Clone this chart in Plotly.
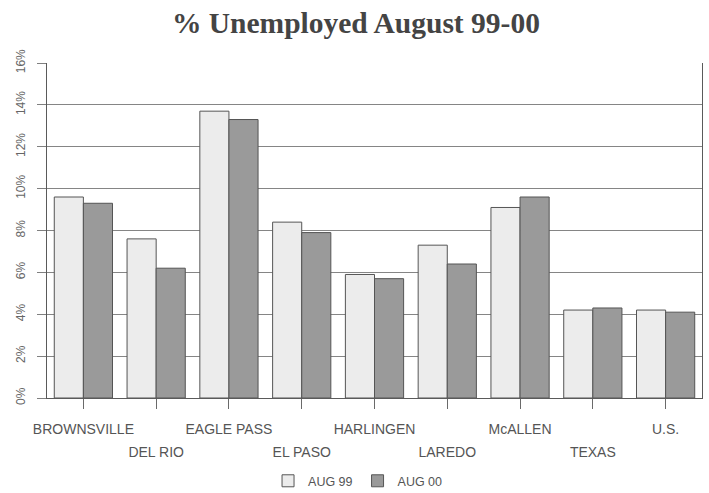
import plotly.graph_objects as go

categories = ["BROWNSVILLE", "DEL RIO", "EAGLE PASS", "EL PASO", "HARLINGEN",
              "LAREDO", "McALLEN", "TEXAS", "U.S."]
aug99 = [9.6, 7.6, 13.7, 8.4, 5.9, 7.3, 9.1, 4.2, 4.2]
aug00 = [9.3, 6.2, 13.3, 7.9, 5.7, 6.4, 9.6, 4.3, 4.1]
y_ticks = [0, 2, 4, 6, 8, 10, 12, 14, 16]
y_ticklabels = [f"{v}%" for v in y_ticks]

# alternate tick labels between two rows
x_ticktext = [
    f'<span style="font-size:14px">{c}</span>' if i % 2 == 0
    else f'<br><span style="font-size:14px">{c}</span>'
    for i, c in enumerate(categories)
]

fig = go.Figure()
fig.add_trace(go.Bar(
    x=categories, y=aug99, name="AUG 99",
    marker=dict(color="#ececec", line=dict(color="#555555", width=1)),
))
fig.add_trace(go.Bar(
    x=categories, y=aug00, name="AUG 00",
    marker=dict(color="#9a9a9a", line=dict(color="#555555", width=1)),
))

fig.update_layout(
    width=709, height=493,
    margin=dict(l=47, r=7, t=63, b=95, autoexpand=False),
    paper_bgcolor="white", plot_bgcolor="white",
    barmode="group", bargap=0.2, bargroupgap=0,
    title=dict(
        text="<b>% Unemployed August 99-00</b>",
        x=0.502, xanchor="center", y=0.955, yanchor="middle",
        font=dict(family="Liberation Serif", size=29.5, color="#444444"),
    ),
    font=dict(family="Liberation Sans", color="#555555"),
    legend=dict(
        orientation="h", xref="container", x=0.505, xanchor="center",
        yref="container", y=0.024, yanchor="middle",
        font=dict(size=12.5, color="#555555"),
        itemwidth=30, tracegroupgap=0,
    ),
    showlegend=True,
)

fig.update_xaxes(
    tickmode="array", tickvals=categories, ticktext=x_ticktext,
    tickangle=0, automargin=False,
    tickfont=dict(size=17, color="#555555"),
    ticks="outside", ticklen=10, tickcolor="#6a6a6a", tickwidth=1,
    ticklabelstandoff=5,
    showline=True, linecolor="#5a5a5a", linewidth=1,
    showgrid=False,
)
fig.update_yaxes(
    range=[0, 16], tickvals=y_ticks, ticktext=y_ticklabels,
    tickangle=-90, automargin=False,
    tickfont=dict(size=12, color="#666666"),
    ticks="outside", ticklen=9, tickcolor="#808080", tickwidth=1,
    showgrid=True, gridcolor="#858585", gridwidth=1,
    showline=True, linecolor="#5a5a5a", linewidth=1, mirror=True,
    zeroline=False,
    ticklabelstandoff=7,
)

fig.write_html("out.html", config={"displayModeBar": False},
               post_script="document.body.style.margin='0';")
